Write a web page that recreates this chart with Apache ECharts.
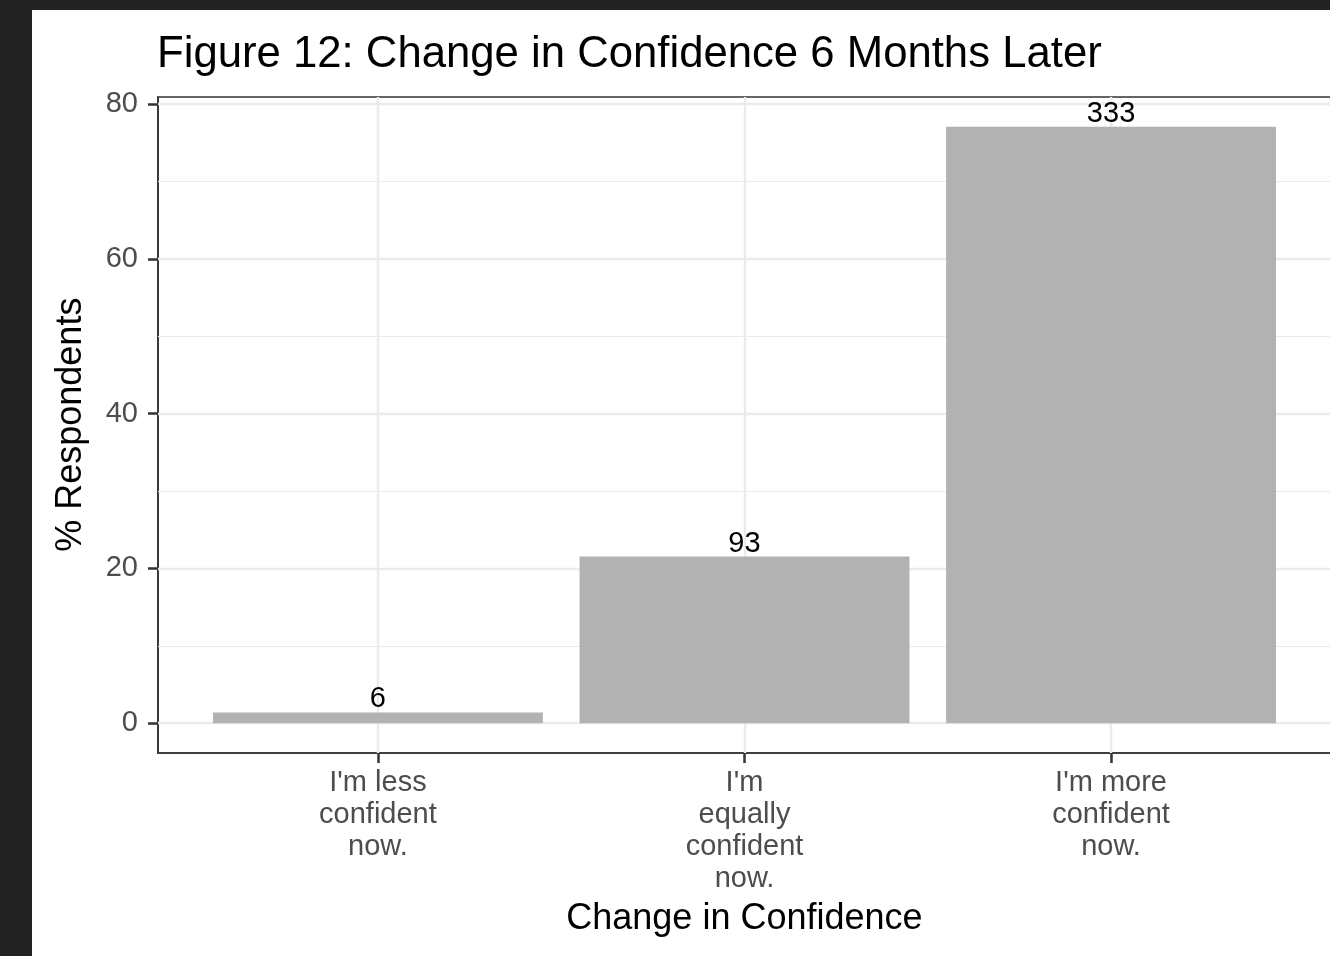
<!DOCTYPE html>
<html>
<head>
<meta charset="utf-8">
<script src="https://cdn.jsdelivr.net/npm/echarts@6/dist/echarts.min.js"></script>
<style>
  html, body { margin: 0; padding: 0; background: #222222; width: 1330px; height: 956px; overflow: hidden; }
  #chart { position: absolute; left: 32px; top: 10px; width: 1310px; height: 946px; background: #ffffff; }
</style>
</head>
<body>
<div id="chart"></div>
<script>
// ---- data ----
const categories = ["I'm less\nconfident\nnow.", "I'm\nequally\nconfident\nnow.", "I'm more\nconfident\nnow."];
const percentRespondents = [1.39, 21.53, 77.08];
const counts = [6, 93, 333];
const yTicks = [0, 20, 40, 60, 80];
const yMinorTicks = [10, 30, 50, 70];
const titleText = 'Figure 12: Change in Confidence 6 Months Later';
const xTitle = 'Change in Confidence';
const yTitle = '% Respondents';

const FONT = "'Liberation Sans', Arial, Helvetica, sans-serif";
const positions = categories.map((c, i) => i + 1);
const barData = percentRespondents.map((v, i) => [positions[i], v]);

const yMax = Math.max(...percentRespondents);
const yExp = yMax * 0.05;

const gridLines = [];
yMinorTicks.forEach(v => gridLines.push({ yAxis: v, lineStyle: { color: '#ebebeb', width: 1.2, type: 'solid' } }));
yTicks.forEach(v => gridLines.push({ yAxis: v, lineStyle: { color: '#ebebeb', width: 2.4, type: 'solid' } }));
positions.forEach(v => gridLines.push({ xAxis: v, lineStyle: { color: '#ebebeb', width: 2.4, type: 'solid' } }));

const chart = echarts.init(document.getElementById('chart'), null, { renderer: 'canvas' });
chart.setOption({
  animation: false,
  backgroundColor: '#ffffff',
  textStyle: { fontFamily: FONT },
  grid: {
    left: 126, top: 87, right: 11, bottom: 203,
    show: true, borderColor: '#333333', borderWidth: 1.6, backgroundColor: 'transparent',
    containLabel: false
  },
  xAxis: {
    type: 'value',
    min: 0.4, max: 3.6,
    axisLine: { show: true, onZero: false, lineStyle: { color: '#333333', width: 1.6 } },
    splitLine: { show: false },
    axisTick: { show: true, customValues: positions, length: 10, lineStyle: { color: '#333333', width: 2.5 } },
    axisLabel: {
      customValues: positions,
      formatter: v => categories[Math.round(v) - 1] || '',
      fontFamily: FONT, fontSize: 29, lineHeight: 32, color: '#4d4d4d', margin: 14, align: 'center'
    }
  },
  yAxis: {
    type: 'value',
    min: -yExp, max: yMax + yExp,
    axisLine: { show: true, onZero: false, lineStyle: { color: '#333333', width: 1.6 } },
    splitLine: { show: false },
    axisTick: { show: true, customValues: yTicks, length: 10, lineStyle: { color: '#333333', width: 2.5 } },
    axisLabel: {
      customValues: yTicks,
      fontFamily: FONT, fontSize: 29, color: '#4d4d4d', margin: 20
    }
  },
  graphic: [
    { type: 'text', left: 125, top: 23, style: { text: titleText, font: `43.7px ${FONT}`, fill: '#000000' } },
    { type: 'text', x: 712.4, y: 909.5, style: { text: xTitle, font: `36px ${FONT}`, fill: '#000000', align: 'center', verticalAlign: 'middle' } },
    { type: 'text', x: 39.2, y: 414.7, rotation: Math.PI / 2, style: { text: yTitle, font: `36px ${FONT}`, fill: '#000000', align: 'center', verticalAlign: 'middle' } }
  ],
  series: [
    {
      type: 'bar',
      data: barData,
      barWidth: '90%',
      z: 3,
      itemStyle: { color: '#b2b2b2' },
      label: {
        show: true, position: 'top', distance: -1.5,
        formatter: p => String(counts[p.dataIndex]),
        fontFamily: FONT, fontSize: 29, color: '#000000'
      },
      markLine: {
        silent: true, z: 1, symbol: 'none', animation: false,
        label: { show: false },
        data: gridLines
      }
    }
  ]
});
</script>
</body>
</html>
